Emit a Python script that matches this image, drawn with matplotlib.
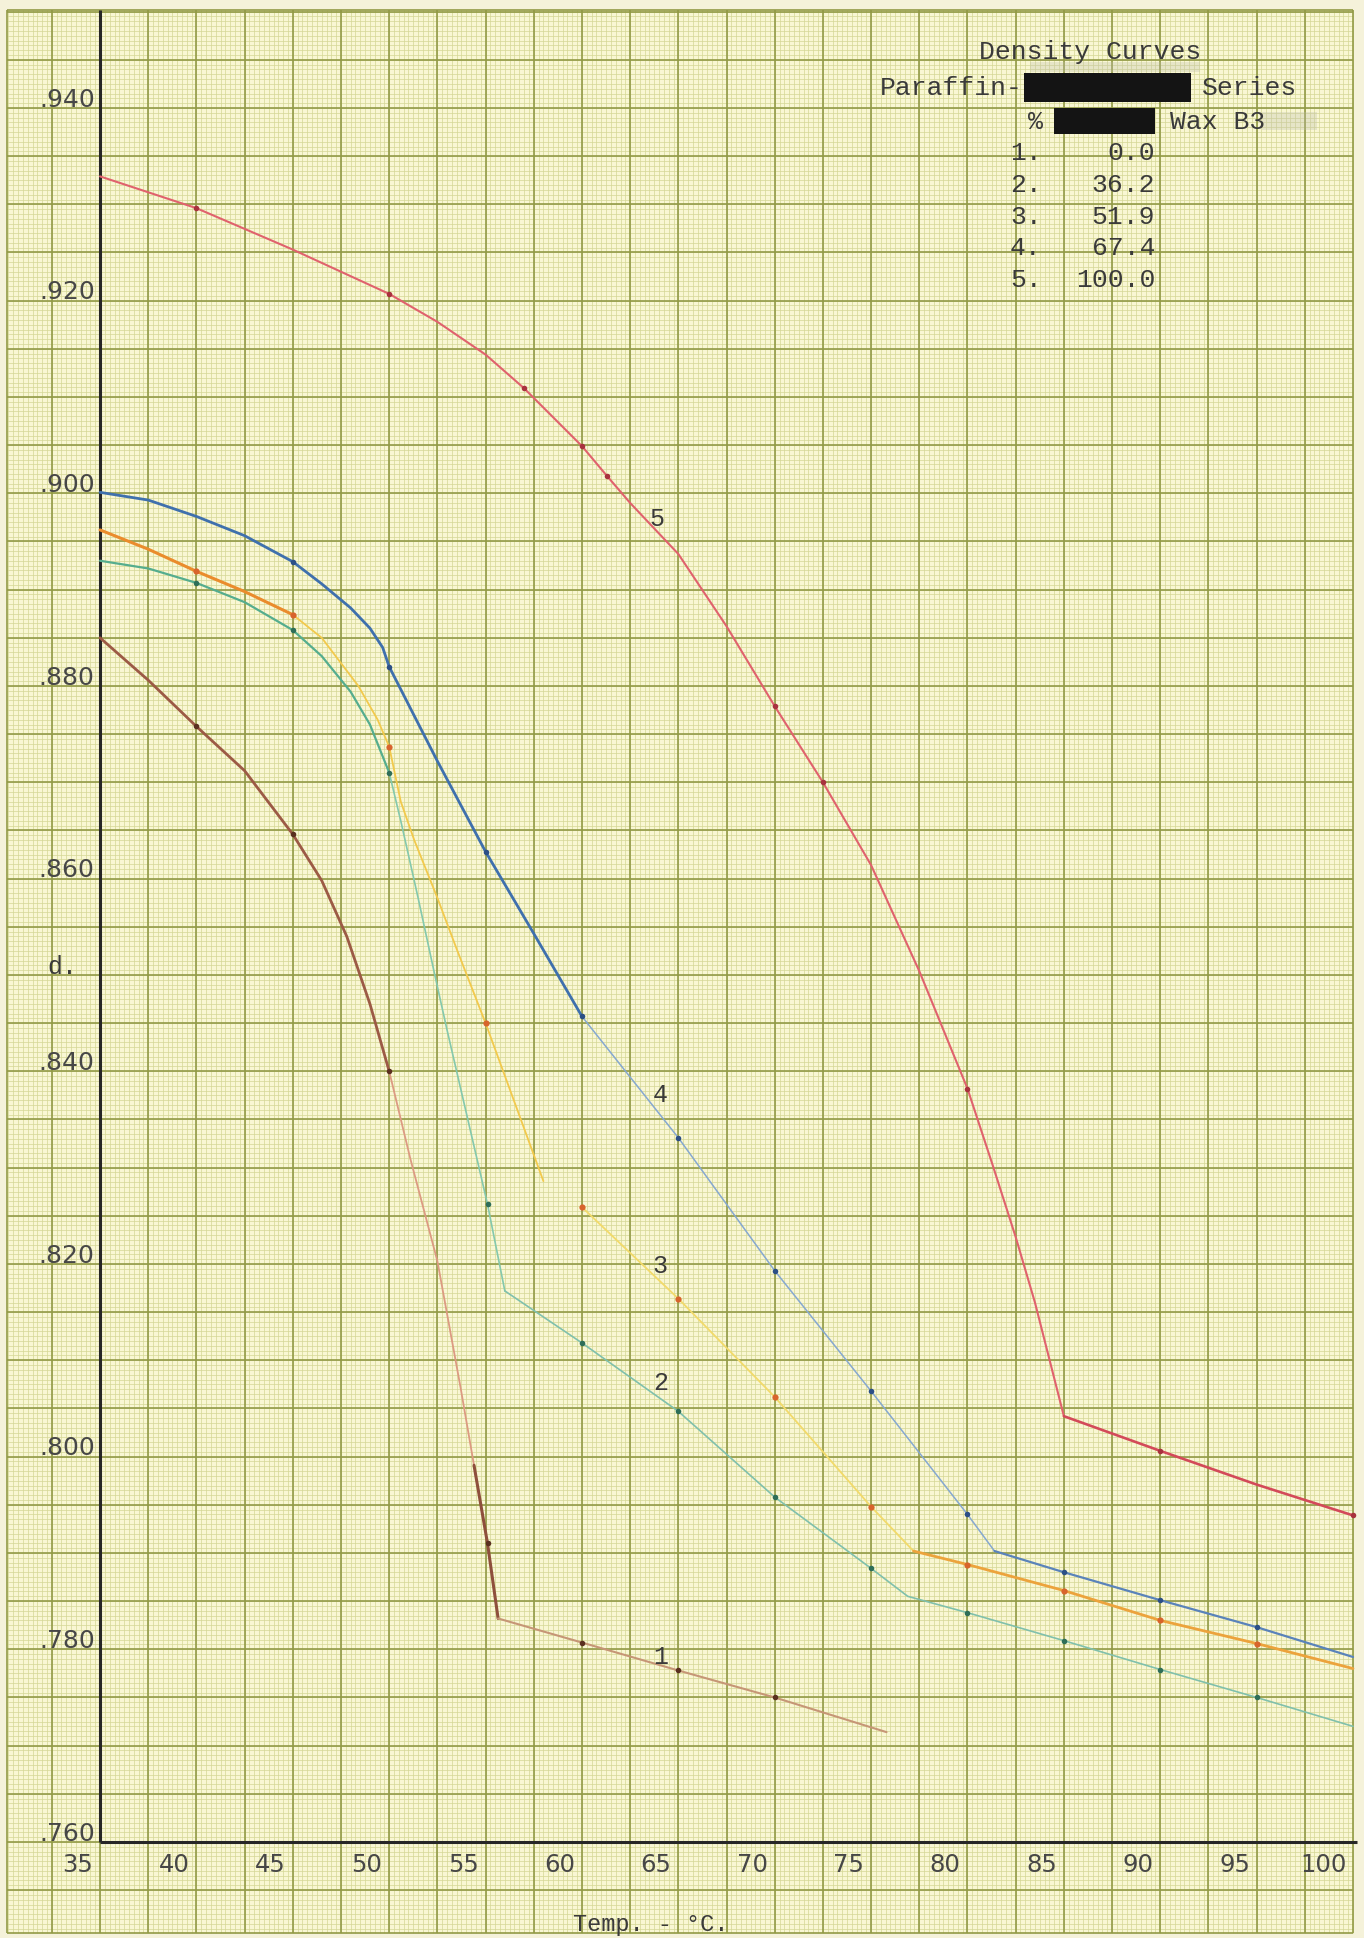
import matplotlib.pyplot as plt
from matplotlib.patches import Rectangle
import numpy as np

# кривые плотности: температура (°C) и плотность d
c1_t = [35, 37.5, 40, 42.5, 45, 46.5, 47.8, 49, 50, 51.1, 52.5, 53.7, 54.4, 55.1, 55.65, 60, 65, 70, 75.8]
c1_d = [0.8850, 0.8806, 0.8758, 0.8712, 0.8646, 0.8598, 0.8540, 0.8470, 0.8400, 0.8309, 0.8203, 0.8072,
        0.7991, 0.7910, 0.7832, 0.7807, 0.7778, 0.7750, 0.7714]
c1_pts = [40, 45, 50, 55.1, 60, 65, 70]

c2_t = [35, 37.5, 40, 42.5, 45, 46.5, 48, 49, 50, 50.6, 51.5, 52.3, 53, 55.1, 56, 60, 65, 70, 75, 76.9,
        80, 85, 90, 95, 100]
c2_d = [0.8930, 0.8922, 0.8907, 0.8887, 0.8858, 0.8831, 0.8794, 0.8760, 0.8710, 0.8660, 0.8580, 0.8506,
        0.8443, 0.8262, 0.8172, 0.8118, 0.8047, 0.7958, 0.7884, 0.7855, 0.7838, 0.7809, 0.7779, 0.7750, 0.7720]
c2_pts = [40, 45, 50, 55.1, 60, 65, 70, 75, 80, 85, 90, 95]

c3a_t = [35, 37.5, 40, 42.5, 45, 46.5, 48.4, 49.4, 50, 50.6, 51.3, 52.5, 53.5, 55, 58]
c3a_d = [0.8962, 0.8942, 0.8919, 0.8898, 0.8874, 0.8850, 0.8800, 0.8765, 0.8737, 0.8680, 0.8640, 0.8580,
         0.8527, 0.8450, 0.8286]
c3a_pts = [40, 45, 50, 55]
c3b_t = [60, 65, 70, 75, 77.2, 80, 85, 90, 95, 100]
c3b_d = [0.8259, 0.8164, 0.8062, 0.7948, 0.7902, 0.7888, 0.7861, 0.7830, 0.7806, 0.7780]
c3b_pts = [60, 65, 70, 75, 80, 85, 90, 95]

c4_t = [35, 37.5, 40, 42.5, 45, 46.5, 48, 49, 49.66, 50, 52.5, 55, 57.5, 60, 65, 70, 75, 80, 81.4,
        85, 90, 95, 100]
c4_d = [0.9001, 0.8993, 0.8976, 0.8956, 0.8929, 0.8906, 0.8881, 0.8860, 0.8840, 0.8820, 0.8722, 0.8628,
        0.8543, 0.8457, 0.8331, 0.8193, 0.8068, 0.7940, 0.7902, 0.7880, 0.7851, 0.7823, 0.7792]
c4_pts = [45, 50, 55, 60, 65, 70, 75, 80, 85, 90, 95]

c5_t = [35, 40, 45, 50, 52.5, 55, 57, 60, 61.3, 62.5, 65, 67.5, 70, 72.5, 75, 77.5, 80, 81.3, 82.5,
        83.5, 85, 90, 95, 100]
c5_d = [0.9329, 0.9296, 0.9253, 0.9207, 0.9178, 0.9144, 0.9109, 0.9049, 0.9018, 0.8990, 0.8937, 0.8862,
        0.8779, 0.8700, 0.8614, 0.8504, 0.8382, 0.8303, 0.8228, 0.8160, 0.8042, 0.8006, 0.7971, 0.7939]
c5_pts = [40, 50, 57, 60, 61.3, 70, 72.5, 80, 90, 100]

x_ticks = list(range(35, 101, 5))
y_ticks = [0.760, 0.780, 0.800, 0.820, 0.840, 0.860, 0.880, 0.900, 0.920, 0.940]
legend_num = ['1.', '2.', '3.', '4.', '5.']
legend_pct = ['0.0', '36.2', '51.9', '67.4', '100.0']

W, H = 1364, 1938
fig = plt.figure(figsize=(W / 100, H / 100), dpi=100)
fig.patch.set_facecolor('#f5f2da')
ax = fig.add_axes([0, 0, 1, 1])
ax.set_xlim(29.81, 100.57)
ax.set_ylim(0.75003, 0.95121)
ax.axis('off')

# миллиметровка
x0, x1 = 30.18, 100.0
y0, y1 = 0.75055, 0.95018
ax.add_patch(Rectangle((x0, y0), x1 - x0, y1 - y0, facecolor='#f9f7d3', edgecolor='none', zorder=0))
fine_x = np.round(np.arange(30.25, 100.001, 0.25), 3)
fine_y = np.round(np.arange(0.7510, 0.95001, 0.0005), 4)
ax.vlines(fine_x, y0, y1, color='#d4d795', lw=0.5, zorder=1)
ax.hlines(fine_y, x0, x1, color='#d4d795', lw=0.5, zorder=1)
major_x = np.arange(32.5, 100.01, 2.5)
major_y = np.round(np.arange(0.755, 0.95001, 0.005), 3)
ax.vlines(major_x, y0, y1, color='#929a46', lw=1.2, zorder=2)
ax.hlines(major_y, x0, x1, color='#929a46', lw=1.2, zorder=2)
ax.vlines([x0], y0, y1, color='#929a46', lw=1.2, zorder=2)
ax.hlines([y0, y1], x0, x1, color='#929a46', lw=1.2, zorder=2)

# оси
ax.plot([35, 35], [0.760, y1], color='#262626', lw=2.2, zorder=3, solid_capstyle='butt')
ax.plot([35, 100.2], [0.760, 0.760], color='#262626', lw=2.2, zorder=3, solid_capstyle='butt')

for t in x_ticks:
    ax.text(t - 0.35, 0.75761, str(t), ha='right', va='center', fontsize=17.5,
            family='DejaVu Sans', color='#474747', zorder=4)
for v in y_ticks:
    ax.text(34.72, v + 0.00012, ('%.3f' % v)[1:], ha='right', va='baseline', fontsize=18,
            family='DejaVu Sans', color='#474747', zorder=4)


def draw(t, d, pts, pieces, mcolor, ms=4):
    t = np.array(t)
    d = np.array(d)
    for a, b, col, lw in pieces:
        m = (t >= a) & (t <= b)
        ax.plot(t[m], d[m], color=col, lw=lw, zorder=5, solid_capstyle='round', solid_joinstyle='round')
    m = np.isin(t, pts)
    ax.plot(t[m], d[m], 'o', color=mcolor, ms=ms, mew=0, zorder=6)


draw(c5_t, c5_d, c5_pts, [(35, 85, '#e0626d', 1.5), (85, 100, '#d34a59', 1.9)], '#a8323e')
draw(c4_t, c4_d, c4_pts, [(35, 60, '#3f70ad', 2.0), (60, 81.4, '#86a8d0', 1.1),
                          (81.4, 100, '#5a83ba', 1.6)], '#2c4f86')
draw(c3a_t, c3a_d, c3a_pts, [(35, 45, '#ea8c2c', 2.2), (45, 58, '#f2c94c', 1.3)], '#d8642c', 4.5)
draw(c3b_t, c3b_d, c3b_pts, [(60, 77.2, '#f2da6a', 1.3), (77.2, 100, '#eca33c', 2.0)], '#d8642c', 4.5)
draw(c2_t, c2_d, c2_pts, [(35, 50, '#55ad8e', 1.6), (50, 56, '#84c8ad', 1.2),
                          (56, 100, '#80c0ac', 1.2)], '#2e6e58')
draw(c1_t, c1_d, c1_pts, [(35, 50, '#9c5a45', 2.0), (50, 54.4, '#dc9a82', 1.3),
                          (54.4, 55.65, '#8e4f3c', 2.2), (55.65, 75.8, '#c69676', 1.5)], '#5a3020')


def px(x, y):
    return x / W, 1 - y / H


mono = 'Liberation Mono'
ink = '#3a3a3a'
# номера кривых
for lab, x, y in [('5', 657, 519), ('4', 660, 1095), ('3', 660, 1266), ('2', 661, 1383), ('1', 661, 1657)]:
    fig.text(*px(x, y), lab, ha='center', va='center', fontsize=18, family=mono, color=ink)

fig.text(*px(62, 967), 'd.', ha='center', va='center', fontsize=18, family=mono, color=ink)
fig.text(*px(651, 1924), 'Temp. - °C.', ha='center', va='center', fontsize=17, family=mono, color=ink)

# заголовок
for x, y, w, h in [(1030, 62, 170, 10), (1262, 112, 55, 18)]:
    fig.add_artist(Rectangle(px(x, y + h), w / W, h / H, transform=fig.transFigure,
                             color='#bdbcad', alpha=0.3, lw=0))
fig.text(*px(1090, 52), 'Density Curves', ha='center', va='center', fontsize=19, family=mono, color=ink)
fig.text(*px(880, 88), 'Paraffin-', ha='left', va='center', fontsize=19, family=mono, color=ink)
fig.text(*px(1202, 88), 'Series', ha='left', va='center', fontsize=19, family=mono, color=ink)
fig.text(*px(1028, 122), '%', ha='left', va='center', fontsize=18, family=mono, color=ink)
fig.text(*px(1170, 122), 'Wax B3', ha='left', va='center', fontsize=19, family=mono, color=ink)
for x, y, w, h in [(1024, 73, 167, 29), (1054, 108, 101, 26)]:
    fig.add_artist(Rectangle(px(x, y + h), w / W, h / H, transform=fig.transFigure, color='#141414', lw=0))
for i in range(5):
    y = 153 + i * 31.8
    fig.text(*px(1010, y), legend_num[i], ha='left', va='center', fontsize=19, family=mono, color=ink)
    fig.text(*px(1155, y), legend_pct[i], ha='right', va='center', fontsize=19, family=mono, color=ink)

fig.savefig('out.png', dpi=100, facecolor=fig.get_facecolor())
